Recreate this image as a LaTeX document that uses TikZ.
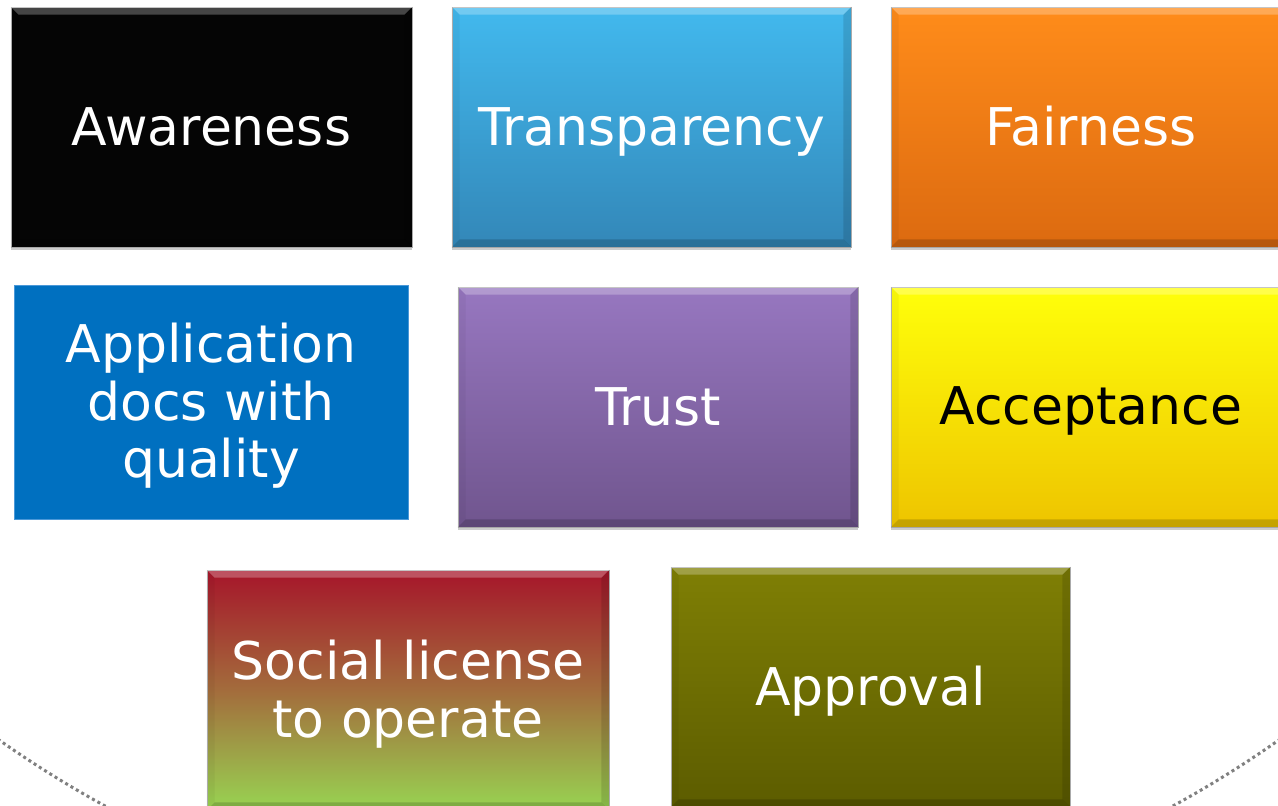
\documentclass[tikz,border=0pt]{standalone}
\usepackage{fontspec}
\setmainfont{DejaVu Sans}
\usetikzlibrary{shadows}
\definecolor{trTop}{HTML}{42B9EE}
\definecolor{trBot}{HTML}{3387B8}
\definecolor{faTop}{HTML}{FF8C1A}
\definecolor{faBot}{HTML}{DC6A10}
\definecolor{apFill}{HTML}{0070C0}
\definecolor{apEdge}{HTML}{4A98D8}
\definecolor{tuTop}{HTML}{9777C0}
\definecolor{tuBot}{HTML}{70558E}
\definecolor{acTop}{HTML}{FFFF0A}
\definecolor{acBot}{HTML}{EEC400}
\definecolor{slTop}{HTML}{A6152A}
\definecolor{slMid}{HTML}{A36C3C}
\definecolor{slBot}{HTML}{98D452}
\definecolor{avTop}{HTML}{7F7F05}
\definecolor{avBot}{HTML}{5C5C00}
\definecolor{awFill}{HTML}{050505}
\tikzset{
  box/.style={rectangle, inner sep=0pt, draw=black!30, line width=0.6pt,
    drop shadow={shadow xshift=0pt, shadow yshift=-3pt, opacity=0.2, fill=black}},
  grad/.style 2 args={top color=#1, bottom color=#2},
  lbl/.style={text=white, inner sep=0pt, font=\fontsize{52}{57.5}\selectfont},
  mlbl/.style={lbl, align=center},
  ring/.style={draw=black!50, line width=3pt, dash pattern=on 3pt off 3.2pt},
}
\newcommand{\bevelon}[1]{%
  \fill[white,opacity=0.26] (#1.north west) -- (#1.north east) -- ([xshift=-8pt,yshift=-8pt]#1.north east) -- ([xshift=8pt,yshift=-8pt]#1.north west) -- cycle;
  \fill[black,opacity=0.17] (#1.south west) -- (#1.south east) -- ([xshift=-8pt,yshift=8pt]#1.south east) -- ([xshift=8pt,yshift=8pt]#1.south west) -- cycle;
  \fill[black,opacity=0.04] (#1.north west) -- ([xshift=8pt,yshift=-8pt]#1.north west) -- ([xshift=8pt,yshift=8pt]#1.south west) -- (#1.south west) -- cycle;
  \fill[black,opacity=0.12] (#1.north east) -- ([xshift=-8pt,yshift=-8pt]#1.north east) -- ([xshift=-8pt,yshift=8pt]#1.south east) -- (#1.south east) -- cycle;
}
\begin{document}
\begin{tikzpicture}[x=1pt,y=-1pt]
\useasboundingbox (0,0) rectangle (1278,806);
\fill[white] (0,0) rectangle (1278,806);
\clip (0,0) rectangle (1278,806);

% background ring
\draw[ring] (639,-172) circle[radius=1114];

% row 1
\node[box, fill=awFill, minimum width=401pt, minimum height=240pt] (aw) at (211.5,127) {};
\bevelon{aw}
\node[box, grad={trTop}{trBot}, minimum width=399pt, minimum height=240pt] (tr) at (651.5,127) {};
\bevelon{tr}
\node[box, grad={faTop}{faBot}, minimum width=400pt, minimum height=240pt] (fa) at (1091,127) {};
\bevelon{fa}
\node[lbl, anchor=base] (awt) at (211.5,145) {Awareness};
\node[lbl, anchor=base] (trt) at (651.5,145) {Transparency};
\node[lbl, anchor=base] (fat) at (1091,145) {Fairness};

% row 2
\node[rectangle, inner sep=0pt, fill=apFill, draw=apEdge, line width=0.8pt, minimum width=394pt, minimum height=234pt] (ap) at (211,402) {};
\node[box, grad={tuTop}{tuBot}, minimum width=400pt, minimum height=240pt] (tu) at (658,407) {};
\bevelon{tu}
\node[box, grad={acTop}{acBot}, minimum width=400pt, minimum height=240pt] (ac) at (1091,407) {};
\bevelon{ac}
\node[mlbl] (apt) at (211,406) {Application\\docs with\\quality};
\node[lbl, anchor=base] (tut) at (658,425) {Trust};
\node[lbl, anchor=base, text=black] (act) at (1091,424) {Acceptance};

% row 3
\node[box, top color=slTop, bottom color=slBot, middle color=slMid, minimum width=402pt, minimum height=240pt] (sl) at (408,690) {};
\bevelon{sl}
\node[box, grad={avTop}{avBot}, minimum width=399pt, minimum height=240pt] (av) at (870.5,687) {};
\bevelon{av}
\node[mlbl] (slt) at (408,694) {Social license\\to operate};
\node[lbl, anchor=base] (avt) at (870.5,705) {Approval};
\end{tikzpicture}
\end{document}
